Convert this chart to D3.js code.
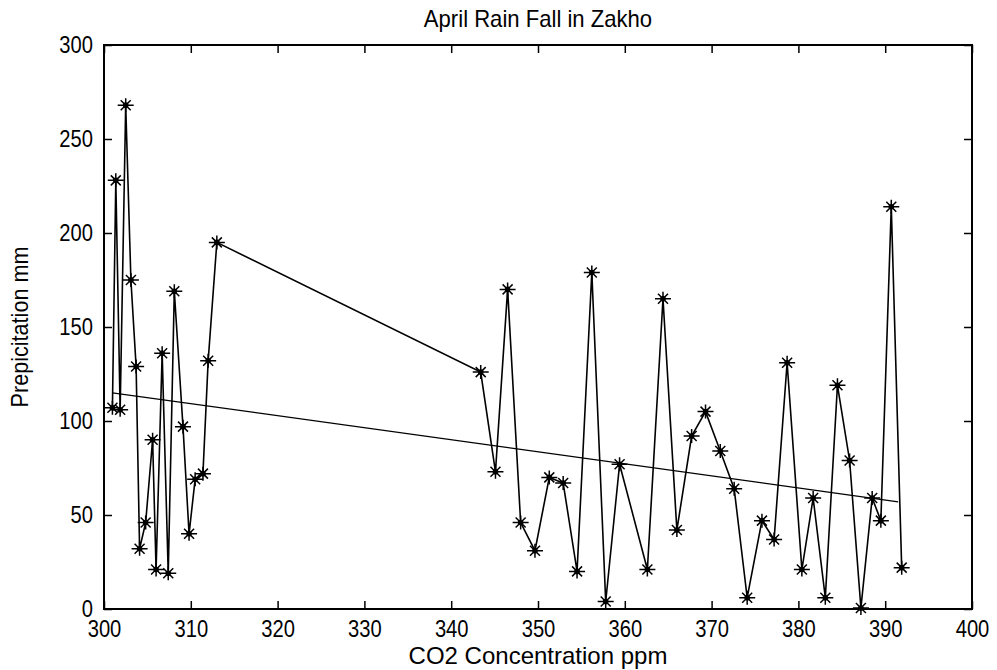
<!DOCTYPE html>
<html lang="en">
<head>
<meta charset="utf-8">
<script src="https://d3js.org/d3.v7.min.js"></script>
<style>
  body { margin: 0; background: #fff; }
  text { font-family: "Liberation Sans", Arial, sans-serif; fill: #000; }
</style>
</head>
<body>
<div id="chart"></div>
<script>
// CO2 (ppm) vs April rain (mm)
var co2 = [300.97, 301.36, 301.86, 302.5, 303.1, 303.7, 304.1, 304.8, 305.6, 306.0,
           306.7, 307.4, 308.1, 309.1, 309.8, 310.5, 311.4, 312.0, 313.0,
           343.4, 345.1, 346.5, 348.0, 349.65, 351.3, 352.9, 354.5, 356.2, 357.8,
           359.4, 362.6, 364.4, 366.0, 367.7, 369.3, 371.0, 372.6, 374.1, 375.8,
           377.2, 378.7, 380.4, 381.7, 383.1, 384.5, 385.9, 387.2, 388.5, 389.5,
           390.7, 391.9];
var rain = [107, 228, 106, 268, 175, 129, 32, 46, 90, 21,
            136, 19, 169, 97, 40, 69, 72, 132, 195,
            126, 73, 170, 46, 31, 70, 67, 20, 179, 4,
            77, 21, 165, 42, 92, 105, 84, 64, 6, 47,
            37, 131, 21, 59, 6, 119, 79, 0.5, 59, 47,
            214, 22];
// fitted trend line end points
var fitX = [300.97, 391.5];
var fitY = [115, 57];

var xTicks = [300, 310, 320, 330, 340, 350, 360, 370, 380, 390, 400];
var yTicks = [0, 50, 100, 150, 200, 250, 300];

var W = 997, H = 670;
var margin = {top: 45, right: 25, bottom: 61, left: 104},
    width = W - margin.left - margin.right,
    height = H - margin.top - margin.bottom;

var svg = d3.select("#chart").append("svg")
    .attr("width", W)
    .attr("height", H);

var g = svg.append("g")
    .attr("transform", `translate(${margin.left},${margin.top})`);

var x = d3.scaleLinear().domain([300, 400]).range([0, width]);
var y = d3.scaleLinear().domain([0, 300]).range([height, 0]);

var fs = "24px";

// squeeze text horizontally, the original font is a narrow one
function narrow(sel, k) {
  sel.each(function() {
    var l = this.getComputedTextLength();
    d3.select(this).attr("textLength", l * k).attr("lengthAdjust", "spacingAndGlyphs");
  });
}

// axes, ticks pointing inward
g.append("g")
  .attr("transform", `translate(0,${height})`)
  .call(d3.axisBottom(x).tickValues(xTicks).tickSize(-8).tickPadding(11).tickFormat(d3.format("d")))
  .call(a => a.selectAll("text").style("font-size", fs).call(narrow, 0.84));
g.append("g")
  .call(d3.axisTop(x).tickValues(xTicks).tickSize(-8).tickFormat(""));
g.append("g")
  .call(d3.axisLeft(y).tickValues(yTicks).tickSize(-8).tickPadding(11).tickFormat(d3.format("d")))
  .call(a => a.selectAll("text").style("font-size", fs).call(narrow, 0.84));
g.append("g")
  .attr("transform", `translate(${width},0)`)
  .call(d3.axisRight(y).tickValues(yTicks).tickSize(-8).tickFormat(""));

g.selectAll(".domain").remove();
g.selectAll(".tick line").attr("stroke", "#000").attr("stroke-width", 1.5);

g.append("rect")
  .attr("width", width)
  .attr("height", height)
  .attr("fill", "none")
  .attr("stroke", "#000")
  .attr("stroke-width", 2);

// trend line
g.append("path")
  .datum(d3.range(fitX.length))
  .attr("fill", "none")
  .attr("stroke", "#000")
  .attr("stroke-width", 1.2)
  .attr("d", d3.line().x(i => x(fitX[i])).y(i => y(fitY[i])));

// data line
g.append("path")
  .datum(d3.range(co2.length))
  .attr("fill", "none")
  .attr("stroke", "#000")
  .attr("stroke-width", 1.6)
  .attr("d", d3.line().x(i => x(co2[i])).y(i => y(rain[i])));

// asterisk markers
var star = "M-8,0H8M0,-7V7M-5,-5L5,5M-5,5L5,-5";
g.append("g").selectAll("g")
  .data(d3.range(co2.length))
  .enter().append("g")
    .attr("transform", i => `translate(${x(co2[i])},${y(rain[i])})`)
  .call(s => {
    s.append("path").attr("d", star).attr("stroke", "#000").attr("stroke-width", 1.5).attr("fill", "none");
    s.append("circle").attr("r", 2.8).attr("fill", "#000");
  });

// labels
svg.append("text")
  .attr("x", margin.left + width / 2)
  .attr("y", 27)
  .attr("text-anchor", "middle")
  .style("font-size", fs)
  .text("April Rain Fall in Zakho")
  .call(narrow, 0.92);

svg.append("text")
  .attr("x", margin.left + width / 2)
  .attr("y", 664)
  .attr("text-anchor", "middle")
  .style("font-size", fs)
  .text("CO2 Concentration ppm")
  .call(narrow, 1.0);

svg.append("text")
  .attr("transform", `translate(28,${margin.top + height / 2}) rotate(-90)`)
  .attr("text-anchor", "middle")
  .style("font-size", fs)
  .text("Prepicitation mm")
  .call(narrow, 0.9);
</script>
</body>
</html>
